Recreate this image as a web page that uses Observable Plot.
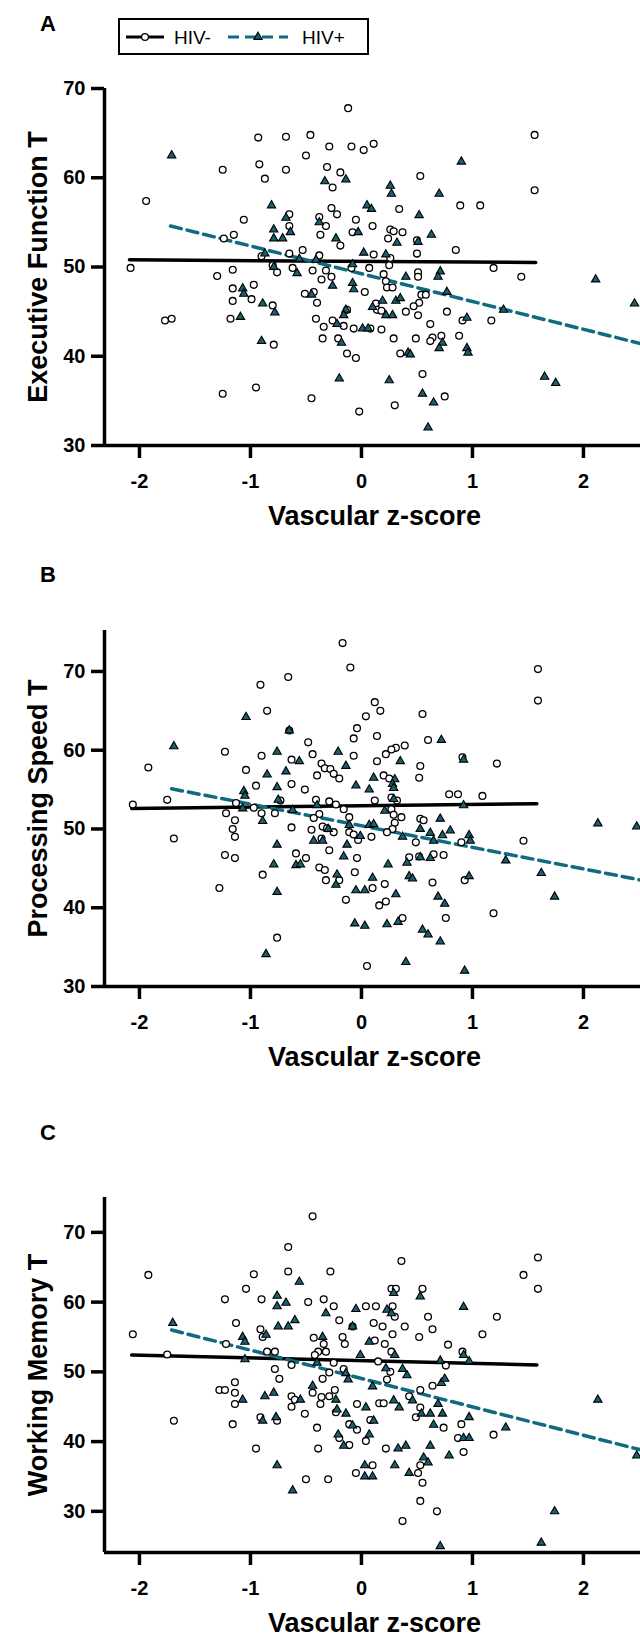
<!DOCTYPE html>
<html><head><meta charset="utf-8">
<script src="https://cdn.jsdelivr.net/npm/d3@7"></script>
<script src="https://cdn.jsdelivr.net/npm/@observablehq/plot@0.6"></script>
<style>
body{margin:0;background:#fff;font-family:"Liberation Sans",Arial,sans-serif}
#page{position:relative;width:640px;height:1645px;overflow:hidden;background:#fff}
.panel{position:absolute;left:0}
.letter{position:absolute;font-weight:bold;font-size:22px;line-height:1}
#legend{position:absolute;left:118px;top:18px;width:247px;height:33px;border:2px solid #000;background:#fff}
</style></head><body><div id="page"></div>
<script>
// ---------- data ----------
const xTicks = [-2, -1, 0, 1, 2];
const yTicks = [30, 40, 50, 60, 70];
const groups = ["HIV-", "HIV+"];

// Panel A: Executive Function T
const execNeg = [[-0.12,67.8],[-0.93,64.5],[-0.68,64.6],[-0.46,64.8],[-0.29,63.5],[-0.09,63.5],[0.02,63.1],[0.11,63.8],[-0.50,62.5],[-1.25,60.9],[-0.92,61.5],[-0.68,60.9],[-0.87,59.9],[-0.31,61.2],[-0.19,60.6],[-0.26,58.9],[-1.94,57.4],[-0.27,56.6],[-0.22,55.9],[-0.65,55.9],[-1.06,55.3],[-0.38,55.6],[-0.05,55.3],
[1.56,64.8],[0.53,60.2],[1.56,58.6],[0.34,56.5],[0.89,56.9],[1.07,56.9],
[-0.32,54.6],[0.10,54.6],[-0.65,54.6],[-0.08,53.9],[-0.37,53.6],[-1.15,53.6],[-1.24,53.2],[-0.19,52.4],[-0.53,51.9],[-0.65,51.5],[-0.90,51.2],[-0.38,51.3],[0.11,51.4],[-2.08,49.9],[-1.30,49.0],[-1.16,49.7],[-0.80,50.2],[-0.76,49.4],[-0.62,49.9],[-0.44,49.6],[-0.32,49.6],[-0.27,48.9],[-0.36,48.6],[-0.09,49.9],[0.07,49.9],[0.03,47.2],[-1.16,47.6],[-0.97,48.0],[-0.99,46.4],[-1.16,46.2],[-0.51,47.0],[-0.43,47.2],[-0.40,46.0],[-0.80,45.7],[-1.77,44.0],[-1.71,44.2],[-1.18,44.2],[-0.41,44.2],[-0.26,44.0],[-0.13,45.2],[-0.34,43.3],[-0.16,43.4],[-0.07,43.1],[0.08,43.1],[-0.35,42.0],[-0.21,42.0],[-0.79,41.3],[-0.13,40.3],[0.13,45.9],
[0.26,54.2],[0.29,54.0],[0.37,53.9],[0.24,53.2],[0.50,53.0],[0.50,51.5],[0.85,51.9],[0.26,51.0],[0.25,50.2],[0.20,49.2],[0.22,48.4],[0.23,47.7],[0.28,47.7],[0.51,49.4],[0.51,48.9],[1.19,49.9],[1.44,48.9],[0.54,46.9],[0.58,46.9],[0.52,46.0],[0.47,45.6],[0.14,45.2],[0.18,45.1],[0.40,45.0],[0.51,44.6],[0.77,45.0],[0.91,44.0],[1.17,44.0],[0.62,43.6],[0.18,43.0],[0.29,42.0],[0.49,42.0],[0.64,42.1],[0.62,41.7],[0.72,42.3],[0.88,42.3],[0.35,40.3],
[-1.25,35.8],[-0.95,36.5],[-0.45,35.3],[-0.02,33.8],[0.30,34.5],[0.75,35.5],[-0.05,39.8],[0.55,38.0]];
const execPos = [[-1.71,62.5],[-0.33,59.6],[-0.14,59.8],[-0.81,56.9],[0.05,56.9],[0.09,56.5],[-0.68,55.5],
[0.90,61.8],[0.26,59.1],[0.27,58.2],[0.70,58.2],[0.52,55.8],
[-0.38,55.0],[-0.79,54.2],[-0.64,53.9],[-0.03,53.9],[-0.79,53.2],[-0.71,53.2],[-0.23,53.2],[-0.87,51.5],[-0.56,50.9],[-0.41,50.8],[0.02,51.6],[-0.79,50.0],[-0.58,49.3],[-0.08,50.3],[-0.26,47.9],[-0.08,48.2],[-0.07,47.5],[-1.07,47.6],[-1.06,47.0],[-0.45,46.9],[-0.89,45.9],[-0.78,44.9],[-1.09,44.4],[-0.14,45.2],[-0.16,44.6],[-0.22,43.6],[0.01,43.1],[0.06,43.1],[-0.18,41.5],[-0.90,41.7],[0.10,45.5],
[0.32,52.7],[0.51,52.8],[0.63,53.6],[0.22,51.4],[0.40,48.9],[0.71,49.5],[0.69,48.9],[2.11,48.6],[2.46,45.9],[0.77,47.2],[0.19,46.2],[0.31,46.2],[0.35,46.5],[0.22,44.6],[0.28,44.6],[1.28,45.2],[0.95,44.3],[0.73,41.5],[0.70,40.9],[0.95,40.9],[0.96,40.4],[0.42,40.4],[0.44,40.2],
[-0.2,37.5],[0.25,37.3],[0.6,32.0],[0.55,35.8],[0.65,34.8],[1.65,37.7],[1.75,37.0]];
const execFitNeg = [[-2.09,50.8],[1.57,50.5]];
const execFitPos = [[-1.72,54.6],[2.52,41.4]];

// Panel B: Processing Speed T
const speedNeg = [[-0.17,73.6],[-0.10,70.5],[-0.91,68.3],[-0.66,69.3],[-0.85,65.0],[-0.65,62.5],[0.12,66.1],[0.17,65.0],[0.04,64.3],[-0.04,62.8],[-0.07,61.5],[0.14,61.8],[-1.23,59.8],[-1.92,57.8],[-0.48,61.0],[-0.90,59.3],[-0.63,58.8],[-0.44,59.5],[-0.07,59.3],[0.14,58.6],[-0.36,58.3],[-0.33,57.7],[-0.28,57.6],[-0.25,57.0],[-0.20,56.4],[-0.40,56.8],[-1.04,57.5],[-0.95,55.5],[-0.63,55.7],[-0.51,55.0],
[1.59,70.3],[1.59,66.3],[0.55,64.6],[0.60,61.3],[0.39,60.6],[0.31,60.3],[0.27,60.1],[0.22,59.5],[0.53,58.0],[0.91,59.1],[1.22,58.3],[0.20,56.8],[0.25,56.4],[0.52,56.5],[0.79,54.4],[0.87,54.4],[1.09,54.2],
[-2.06,53.1],[-1.75,53.7],[-1.69,48.8],[-1.22,52.0],[-1.14,51.1],[-1.16,50.0],[-1.14,49.0],[-1.23,46.7],[-1.14,46.3],[-1.28,42.5],[-1.13,53.3],[-0.97,52.7],[-0.90,52.0],[-0.73,53.6],[-0.78,52.0],[-0.63,50.2],[-0.41,53.7],[-0.38,51.9],[-0.43,51.4],[-0.29,53.5],[-0.23,53.1],[-0.16,52.5],[-0.11,51.5],[-0.35,50.3],[-0.31,50.1],[-0.45,49.9],[-0.25,49.6],[-0.11,49.6],[-0.07,49.3],[-0.03,48.6],[-0.36,48.8],[-0.29,47.3],[0.09,49.0],[0.12,53.6],[-0.59,46.9],[-0.50,46.3],[-0.89,44.2],[-0.38,45.1],[-0.33,44.8],[-0.32,43.5],[-0.20,43.5],[-0.04,46.3],[-0.06,44.5],[0.10,42.5],[-0.14,41.0],[0.16,40.3],[-0.76,36.2],[0.05,32.6],
[0.27,54.0],[0.32,53.6],[0.27,52.5],[0.29,51.8],[0.36,51.5],[0.30,50.8],[0.53,51.3],[0.56,51.1],[0.28,50.0],[0.23,49.6],[0.49,48.3],[0.90,48.3],[1.46,48.5],[0.43,46.4],[0.52,46.5],[0.65,46.8],[0.74,46.7],[0.21,43.0],[0.64,43.2],[0.93,43.5],[0.22,40.8],[1.19,39.3],[0.76,38.7],[0.37,38.7]];
const speedPos = [[-1.04,64.2],[-0.65,62.5],[-1.69,60.5],[-0.76,59.8],[-0.56,58.6],[-0.21,59.8],[-0.14,58.0],[-0.85,56.9],[-0.68,57.3],[-0.76,55.3],[-0.05,55.5],[0.11,56.5],[0.07,55.0],[-1.06,54.8],
[0.72,61.3],[0.35,58.6],[0.92,58.8],[0.30,56.3],[0.28,55.7],[0.29,55.2],
[-1.05,54.2],[-1.07,52.6],[-0.89,51.0],[-0.75,53.7],[-0.62,52.4],[-0.40,53.0],[-0.30,50.0],[-0.11,50.5],[-0.01,49.1],[-0.43,48.5],[-0.35,48.5],[-0.13,48.0],[0.07,50.5],[0.11,50.6],[-0.76,48.0],[-0.79,45.5],[-0.59,45.4],[-0.55,45.5],[-0.22,44.2],[-0.23,42.9],[-0.16,46.5],[0.10,43.8],[-0.05,42.2],[0.03,42.2],[-0.76,42.0],[-0.06,38.0],[0.03,37.7],[-0.86,34.1],
[0.92,53.0],[0.29,53.8],[0.21,52.3],[0.71,51.3],[0.53,50.0],[0.37,49.0],[0.62,49.5],[0.73,49.2],[0.80,49.8],[0.65,48.5],[0.97,49.2],[0.98,48.5],[2.13,50.7],[2.48,50.3],[1.30,46.0],[1.62,44.4],[1.74,41.4],[0.41,45.7],[0.53,46.4],[0.62,46.3],[0.24,45.5],[0.43,44.0],[0.46,43.7],[0.97,44.0],[0.31,41.7],[0.69,41.4],[0.75,40.5],[0.33,38.2],[0.23,37.9],[0.55,37.2],[0.60,36.6],[0.71,35.7],[0.40,33.1],[0.93,32.0]];
const speedFitNeg = [[-2.07,52.6],[1.58,53.2]];
const speedFitPos = [[-1.71,55.1],[2.52,43.5]];

// Panel C: Working Memory T
const memNeg = [[-0.44,72.3],[-0.66,67.9],[-1.92,63.9],[-0.97,64.0],[-0.66,64.4],[-0.28,64.4],[-1.04,61.9],[-1.23,60.4],[-0.90,60.4],[-0.48,60.0],[-0.34,60.4],[-0.25,59.4],[0.04,59.4],[0.13,59.4],[-0.20,57.4],[-1.13,57.0],[0.11,57.0],[-0.08,56.5],[-0.91,56.1],
[0.36,65.9],[1.59,66.4],[1.46,63.9],[1.59,61.9],[0.27,61.9],[0.31,61.9],[0.55,61.9],[0.28,59.4],[0.30,57.9],[0.60,57.9],[1.22,57.9],[0.19,56.5],[0.39,56.5],[0.64,56.1],
[-2.06,55.4],[-1.75,52.5],[-1.69,43.0],[-1.22,54.0],[-0.89,55.0],[-0.85,52.9],[-0.78,52.9],[-0.63,51.0],[-0.78,50.4],[-0.74,49.0],[-1.14,48.5],[-1.28,47.4],[-1.23,47.4],[-1.14,47.0],[-1.14,45.4],[-1.16,42.5],[-0.91,43.5],[-0.76,43.0],[-0.95,39.0],[-0.50,34.6],[-0.30,34.6],[-0.63,46.5],[-0.60,46.0],[-0.63,45.0],[-0.51,44.0],[-0.43,54.9],[-0.34,54.0],[-0.39,52.9],[-0.32,52.9],[-0.42,52.4],[-0.25,51.3],[-0.29,49.9],[-0.17,55.0],[-0.15,54.0],[-0.16,50.4],[-0.35,49.0],[-0.44,47.0],[-0.36,46.4],[-0.29,46.5],[-0.24,47.4],[-0.37,45.4],[-0.23,44.2],[0.15,51.5],[-0.04,45.4],[0.16,45.5],[0.08,43.1],[-0.40,42.0],[-0.11,42.5],[-0.04,41.7],[0.04,40.1],[-0.20,40.5],[-0.11,39.5],[-0.39,39.0],[0.10,36.6],[-0.05,35.5],
[1.09,55.4],[0.28,55.4],[0.52,55.0],[0.78,53.9],[0.12,54.5],[0.21,54.0],[0.27,52.9],[0.91,52.9],[0.76,50.9],[0.26,50.0],[0.23,48.9],[0.53,47.4],[0.64,48.0],[0.43,46.5],[0.53,44.9],[0.20,45.5],[0.49,43.5],[0.74,42.0],[0.90,42.5],[1.19,41.0],[0.87,40.5],[0.22,39.0],[0.92,38.5],[0.53,36.6],[0.51,35.5],[0.55,34.1],[0.53,31.5],[0.68,30.0],[0.37,28.6]];
const memPos = [[-0.56,62.9],[-0.76,60.9],[-0.76,59.4],[-0.68,59.9],[-0.32,58.4],[-0.05,59.0],[-0.60,57.4],[-1.70,57.0],[-0.08,56.5],[-0.75,56.5],[-0.66,56.5],
[0.29,61.3],[0.53,60.8],[0.92,59.3],[0.23,58.9],[0.27,58.4],
[-1.07,55.0],[-1.05,54.3],[-1.05,51.8],[-0.86,55.3],[-1.07,46.0],[-0.87,46.5],[-0.79,47.0],[-0.89,43.0],[-0.77,43.5],[-0.76,36.6],[-0.62,33.0],[-0.55,46.0],[-0.35,55.0],[-0.40,51.3],[0.07,54.3],[-0.01,52.4],[-0.14,49.8],[-0.12,48.9],[-0.44,48.0],[-0.23,46.0],[-0.22,44.6],[-0.14,44.0],[0.10,47.9],[0.04,44.9],[0.11,43.0],[-0.08,42.3],[0.07,41.0],[-0.21,41.0],[-0.16,39.4],[0.03,36.6],[0.03,35.0],[0.10,35.0],
[0.92,52.4],[0.30,52.4],[0.71,51.6],[0.97,51.5],[0.22,50.5],[0.37,50.4],[0.41,49.5],[0.72,48.4],[0.75,49.0],[0.46,45.9],[0.29,45.9],[0.34,44.9],[0.69,45.4],[0.54,44.0],[0.62,44.0],[0.73,44.0],[0.97,43.5],[0.65,42.4],[1.30,42.0],[0.92,40.5],[0.97,40.5],[0.33,39.0],[0.40,39.4],[0.62,39.4],[0.79,38.0],[0.56,37.7],[0.60,37.0],[0.30,36.6],[0.43,35.5],[0.71,25.0],[2.13,46.0],[2.48,38.0],[1.74,30.0],[1.62,25.5]];
const memFitNeg = [[-2.07,52.4],[1.58,51.0]];
const memFitPos = [[-1.71,56.0],[2.52,38.8]];

// ---------- style ----------
const TEAL = "#0f6b80";
const TRI = "#17606f";
const FONT = "'Liberation Sans', Arial, sans-serif";
const xDomain = [-2.315, 2.514];

const page = document.getElementById("page");

function panel({top, height, mt, mb, yDomain, neg, pos, fitNeg, fitPos, ytitle, letter, letterTop}) {
  const chart = Plot.plot({
    width: 640, height,
    marginLeft: 104, marginRight: 0, marginTop: mt, marginBottom: mb,
    x: {domain: xDomain},
    y: {domain: yDomain},
    style: {fontFamily: FONT, fontSize: "20px", fontWeight: "bold", background: "white", overflow: "visible"},
    marks: [
      Plot.line(fitNeg, {stroke: "#000", strokeWidth: 3.5}),
      Plot.line(fitPos, {stroke: TEAL, strokeWidth: 3.5, strokeDasharray: "11,6"}),
      Plot.dot(neg, {r: 3.4, fill: "white", stroke: "#000", strokeWidth: 1.3}),
      Plot.dot(pos, {r: 3.1, symbol: "triangle", fill: TRI, stroke: "#000", strokeWidth: 1.1}),
      Plot.ruleX([xDomain[0]], {strokeWidth: 3.5}),
      Plot.ruleY([yDomain[0]], {strokeWidth: 3.5}),
      Plot.axisX({ticks: xTicks, tickSize: 13, tickPadding: 15, strokeWidth: 3.5, tickFormat: d => String(d), label: null}),
      Plot.axisY({ticks: yTicks, tickSize: 13, tickPadding: 6, strokeWidth: 3.5, tickFormat: d => String(d), label: null}),
      Plot.text(["Vascular z-score"], {text: d => d, frameAnchor: "bottom", textAnchor: "middle", dx: 2, dy: 79, fontSize: 27, fontWeight: "bold"}),
      Plot.text([ytitle], {text: d => d, frameAnchor: "left", textAnchor: "middle", rotate: -90, dx: -66, fontSize: 27, fontWeight: "bold"})
    ]
  });
  const div = document.createElement("div");
  div.className = "panel";
  div.style.top = top + "px";
  div.appendChild(chart);
  page.appendChild(div);
  const l = document.createElement("div");
  l.className = "letter";
  l.style.left = "40px";
  l.style.top = letterTop + "px";
  l.textContent = letter;
  page.appendChild(l);
}

panel({top: 60, height: 490, mt: 28, mb: 105, yDomain: [30, 70], neg: execNeg, pos: execPos, fitNeg: execFitNeg, fitPos: execFitPos, ytitle: "Executive Function T", letter: "A", letterTop: 13});
panel({top: 600, height: 490, mt: 30, mb: 104, yDomain: [30, 75.2], neg: speedNeg, pos: speedPos, fitNeg: speedFitNeg, fitPos: speedFitPos, ytitle: "Processing Speed T", letter: "B", letterTop: 564});
panel({top: 1160, height: 485, mt: 37, mb: 93, yDomain: [24.1, 75], neg: memNeg, pos: memPos, fitNeg: memFitNeg, fitPos: memFitPos, ytitle: "Working Memory T", letter: "C", letterTop: 1122});

// legend
const leg = document.createElement("div");
leg.id = "legend";
leg.innerHTML = `<svg width="247" height="33" style="font-family:${FONT};font-size:19px">
<line x1="6" x2="44" y1="17" y2="17" stroke="#000" stroke-width="3"/>
<circle cx="25" cy="17" r="3.4" fill="#fff" stroke="#000" stroke-width="1.3"/>
<text x="54" y="24">${groups[0]}</text>
<line x1="108" x2="168" y1="17" y2="17" stroke="${TEAL}" stroke-width="3" stroke-dasharray="11,6"/>
<path d="${d3.symbol(d3.symbolTriangle, Math.PI*3.1*3.1)()}" transform="translate(138,17)" fill="${TRI}" stroke="#000" stroke-width="1.1"/>
<text x="182" y="24">${groups[1]}</text></svg>`;
page.appendChild(leg);
</script></body></html>
